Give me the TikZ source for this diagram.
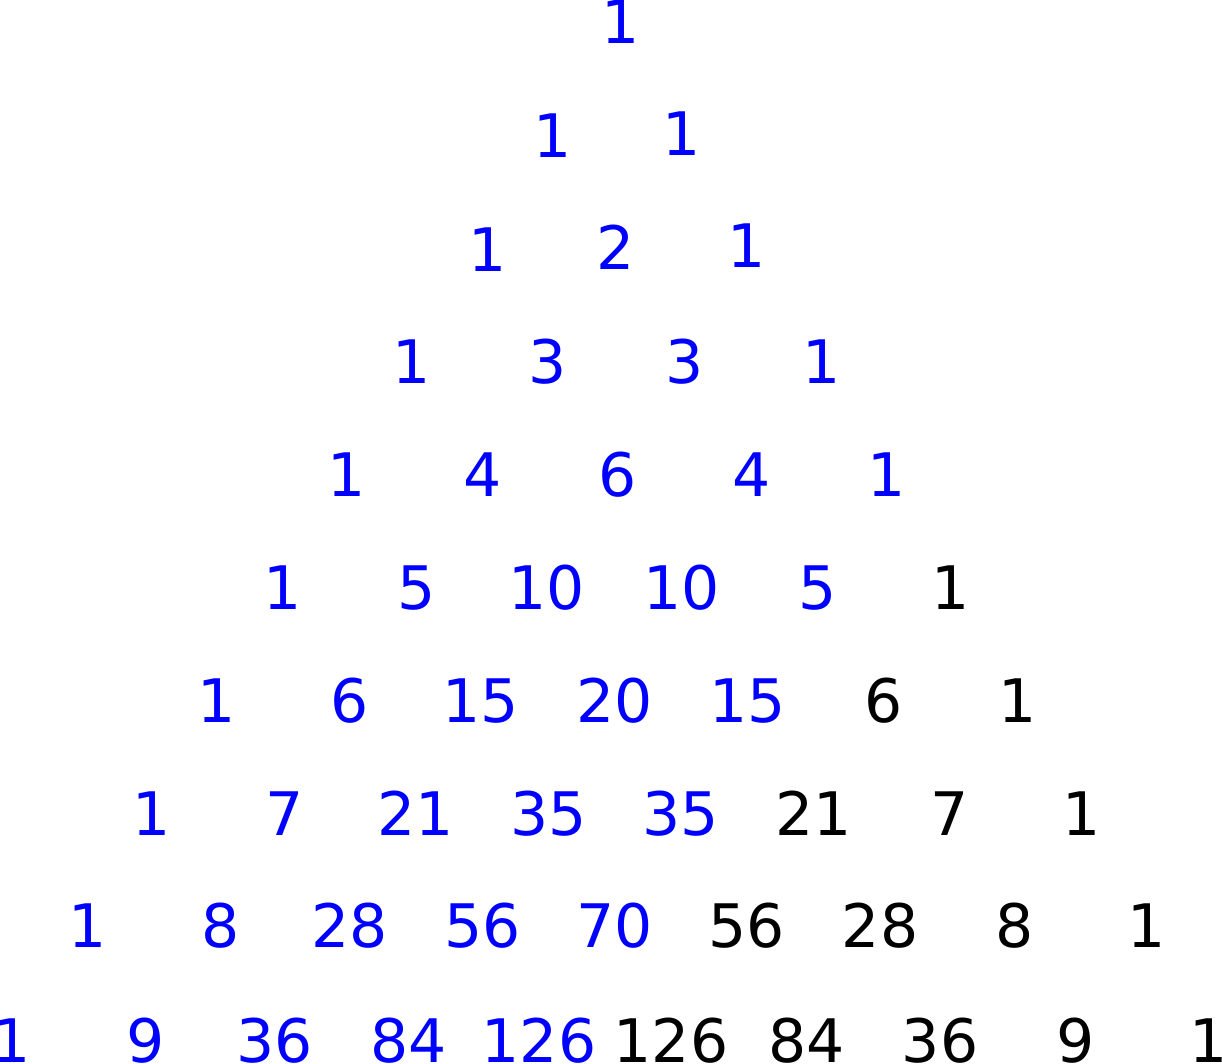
\documentclass[tikz,border=0pt]{standalone}
\usepackage{fontspec}
\setmainfont{DejaVu Sans}
\definecolor{numblue}{RGB}{0,0,255}
\begin{document}
\begin{tikzpicture}[x=1pt,y=-1pt,
  num/.style={anchor=base, inner sep=0pt, font=\fontsize{60}{72}\selectfont},
  bl/.style={num, text=numblue},
  bk/.style={num, text=black}]
\useasboundingbox (0,0) rectangle (1222,1063);
% row 0
\node[bl] (n00) at (620.5,43) {1};
% row 1
\node[bl] (n10) at (553,157) {1};
\node[bl] (n11) at (682,155) {1};
% row 2
\node[bl] (n20) at (487.5,271) {1};
\node[bl] (n21) at (616,269) {2};
\node[bl] (n22) at (746.5,267) {1};
% row 3
\node[bl] (n30) at (412,383) {1};
\node[bl] (n31) at (548,383) {3};
\node[bl] (n32) at (685,383) {3};
\node[bl] (n33) at (821.5,383) {1};
% row 4
\node[bl] (n40) at (347,496) {1};
\node[bl] (n41) at (483,496) {4};
\node[bl] (n42) at (617.7,496) {6};
\node[bl] (n43) at (752,496) {4};
\node[bl] (n44) at (887,496) {1};
% row 5
\node[bl] (n50) at (282.5,609) {1};
\node[bl] (n51) at (417,609) {5};
\node[bl] (n52) at (547,609) {10};
\node[bl] (n53) at (681.5,609) {10};
\node[bl] (n54) at (818,609) {5};
\node[bk] (n55) at (951,609) {1};
% row 6
\node[bl] (n60) at (216.8,722) {1};
\node[bl] (n61) at (350,722) {6};
\node[bl] (n62) at (481,722) {15};
\node[bl] (n63) at (614.6,722) {20};
\node[bl] (n64) at (748,722) {15};
\node[bk] (n65) at (884,722) {6};
\node[bk] (n66) at (1018,722) {1};
% row 7
\node[bl] (n70) at (152,835) {1};
\node[bl] (n71) at (285,835) {7};
\node[bl] (n72) at (415.5,835) {21};
\node[bl] (n73) at (548.5,835) {35};
\node[bl] (n74) at (681,835) {35};
\node[bk] (n75) at (813.5,835) {21};
\node[bk] (n76) at (949.5,835) {7};
\node[bk] (n77) at (1081.5,835) {1};
% row 8
\node[bl] (n80) at (87.3,947) {1};
\node[bl] (n81) at (220.7,947) {8};
\node[bl] (n82) at (349.5,947) {28};
\node[bl] (n83) at (483,947) {56};
\node[bl] (n84) at (614.5,947) {70};
\node[bk] (n85) at (747,947) {56};
\node[bk] (n86) at (880,947) {28};
\node[bk] (n87) at (1015,947) {8};
\node[bk] (n88) at (1146.5,947) {1};
% row 9
\node[bl] (n90) at (12,1062) {1};
\node[bl] (n91) at (146,1062) {9};
\node[bl] (n92) at (275,1062) {36};
\node[bl] (n93) at (409,1062) {84};
\node[bl] (n94) at (539,1062) {126};
\node[bk] (n95) at (671,1062) {126};
\node[bk] (n96) at (807,1062) {84};
\node[bk] (n97) at (940,1062) {36};
\node[bk] (n98) at (1076,1062) {9};
\node[bk] (n99) at (1209,1062) {1};
\end{tikzpicture}
\end{document}
